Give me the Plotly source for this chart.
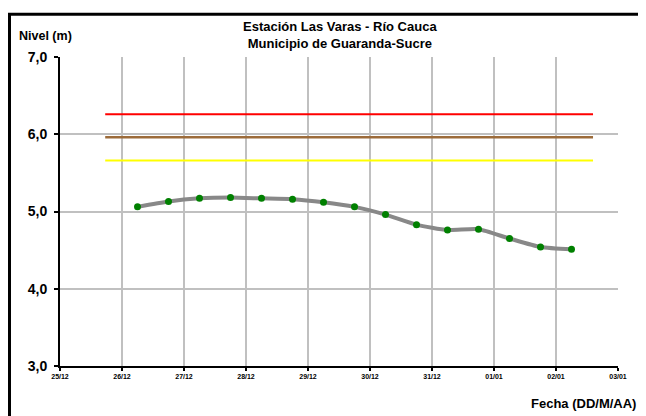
import plotly.graph_objects as go

# Data
fechas = ["2010-12-26 06:00", "2010-12-26 18:00", "2010-12-27 06:00", "2010-12-27 18:00",
          "2010-12-28 06:00", "2010-12-28 18:00", "2010-12-29 06:00", "2010-12-29 18:00",
          "2010-12-30 06:00", "2010-12-30 18:00", "2010-12-31 06:00", "2010-12-31 18:00",
          "2011-01-01 06:00", "2011-01-01 18:00", "2011-01-02 06:00"]
nivel = [5.06, 5.13, 5.17, 5.18, 5.17, 5.16, 5.12, 5.06, 4.96, 4.83, 4.76, 4.77, 4.65, 4.54, 4.51]

umbral_fechas = ["2010-12-25 17:30", "2011-01-02 14:20"]
umbral_rojo = [6.26, 6.26]
umbral_marron = [5.96, 5.96]
umbral_amarillo = [5.66, 5.66]

tick_vals = ["2010-12-25", "2010-12-26", "2010-12-27", "2010-12-28", "2010-12-29",
             "2010-12-30", "2010-12-31", "2011-01-01", "2011-01-02", "2011-01-03"]
tick_text = ["25/12", "26/12", "27/12", "28/12", "29/12", "30/12", "31/12", "01/01", "02/01", "03/01"]

FONT = "Liberation Sans, Arial, sans-serif"

fig = go.Figure()
fig.add_trace(go.Scatter(x=umbral_fechas, y=umbral_rojo, mode="lines",
                         line=dict(color="#FF0000", width=2), showlegend=False, hoverinfo="skip"))
fig.add_trace(go.Scatter(x=umbral_fechas, y=umbral_marron, mode="lines",
                         line=dict(color="#9C6B3A", width=2.5), showlegend=False, hoverinfo="skip"))
fig.add_trace(go.Scatter(x=umbral_fechas, y=umbral_amarillo, mode="lines",
                         line=dict(color="#FFFF00", width=2), showlegend=False, hoverinfo="skip"))
fig.add_trace(go.Scatter(x=fechas, y=nivel, mode="lines+markers",
                         line=dict(color="#888888", width=4, shape="spline", smoothing=0.6),
                         marker=dict(color="#008000", size=7),
                         showlegend=False))

# page body has an 8px margin, so figure coordinates = window coordinates - 8
W, H = 646, 416
L, R, T, B = 52, 36, 49, 58
pw, ph = W - L - R, H - T - B

def px(x):
    return (x - L) / pw

def py(y):
    return (H - B - y) / ph

border = dict(color="black", width=3)

fig.update_layout(
    width=W, height=H,
    margin=dict(l=L, r=R, t=T, b=B),
    paper_bgcolor="white", plot_bgcolor="white",
    font=dict(family=FONT, color="black"),
    xaxis=dict(
        type="date",
        range=["2010-12-25", "2011-01-03"],
        tickvals=tick_vals, ticktext=tick_text,
        tickfont=dict(size=7, family=FONT, weight="bold"),
        showgrid=True, gridcolor="#C0C0C0", gridwidth=1.5,
        showline=True, linecolor="black", linewidth=2,
        ticks="outside", ticklen=3, tickcolor="black", tickwidth=1.5,
        zeroline=False,
    ),
    yaxis=dict(
        range=[3, 7],
        tickvals=[3, 4, 5, 6, 7], ticktext=["3,0", "4,0", "5,0", "6,0", "7,0"],
        tickfont=dict(size=14, family=FONT, weight="bold"),
        ticklabelstandoff=4,
        showgrid=True, gridcolor="#C0C0C0", gridwidth=1.5,
        showline=True, linecolor="black", linewidth=2,
        ticks="outside", ticklen=4, tickcolor="black", tickwidth=1.5,
        zeroline=False,
    ),
    shapes=[
        dict(type="line", xref="paper", yref="paper", x0=px(1.5), x1=px(1.5),
             y0=py(5), y1=py(416), line=border),
        dict(type="line", xref="paper", yref="paper", x0=px(0), x1=px(637),
             y0=py(6.25), y1=py(6.25), line=border),
        dict(type="line", xref="paper", yref="paper", x0=px(636), x1=px(636),
             y0=py(5), y1=py(416), line=border),
    ],
    annotations=[
        dict(text="<b>Estación Las Varas - Río Cauca<br>Municipio de Guaranda-Sucre</b>",
             xref="paper", yref="paper", x=px(332), y=py(27), xanchor="center", yanchor="middle",
             showarrow=False, font=dict(size=13, family=FONT)),
        dict(text="<b>Nivel (m)</b>", xref="paper", yref="paper", x=px(9), y=py(28),
             xanchor="left", yanchor="middle", showarrow=False, font=dict(size=12.5, family=FONT)),
        dict(text="<b>Fecha (DD/M/AA)</b>", xref="paper", yref="paper", x=px(630), y=py(395),
             xanchor="right", yanchor="middle", showarrow=False, font=dict(size=13, family=FONT)),
    ],
)

fig.write_html("out.html")
